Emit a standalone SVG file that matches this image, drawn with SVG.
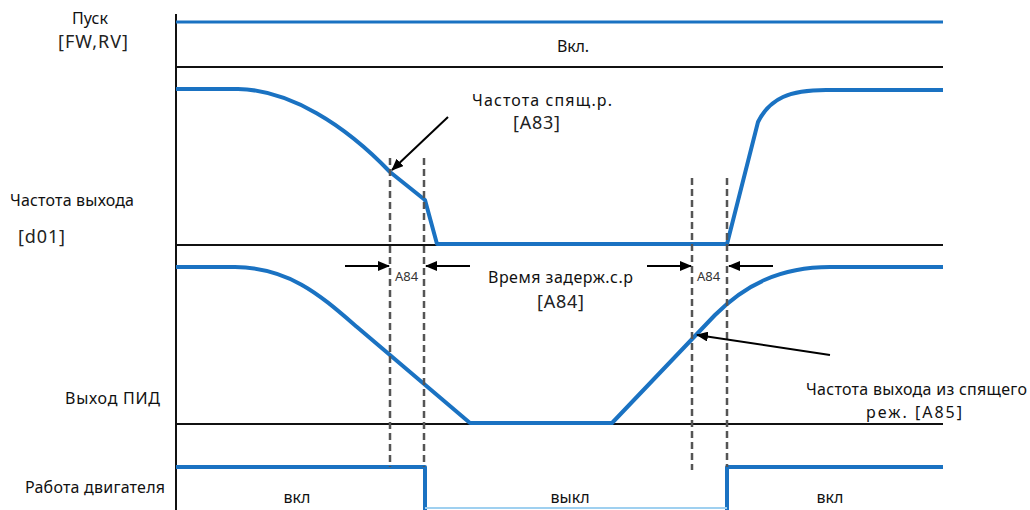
<svg xmlns="http://www.w3.org/2000/svg" width="1030" height="510" viewBox="0 0 1030 510">
<style>
text{font-family:"Noto Sans","DejaVu Sans",sans-serif;font-size:16px;fill:#111}
.sm{font-size:13px;fill:#333}
.br{font-size:18px;fill:#222}
.sig{fill:none;stroke:#1a72c2;stroke-width:4;stroke-linejoin:round}
.ax{fill:none;stroke:#111;stroke-width:2}
.dash{fill:none;stroke:#555;stroke-width:2.5;stroke-dasharray:7 4}
.arr{fill:none;stroke:#000;stroke-width:2;marker-end:url(#ah)}
</style>
<defs>
<marker id="ah" viewBox="0 0 12 10" refX="11" refY="5" markerWidth="12" markerHeight="10" markerUnits="userSpaceOnUse" orient="auto"><path d="M0,0 L12,5 L0,10 Z" fill="#000"/></marker>
</defs>
<rect width="1030" height="510" fill="#fff"/>
<g id="axes">
<line class="ax" x1="176" y1="14" x2="176" y2="510"/>
<line class="ax" x1="176" y1="67" x2="943" y2="67"/>
<line class="ax" x1="176" y1="245" x2="943" y2="245"/>
<line class="ax" x1="176" y1="424" x2="943" y2="424"/>
</g>
<g id="run-signal">
<line class="sig" x1="176" y1="22" x2="943" y2="22" style="stroke-width:3"/>
<text x="557" y="52" textLength="32" lengthAdjust="spacing">Вкл.</text>
</g>
<g id="output-frequency">
<path class="sig" d="M176,89 L238,89 C290,90 345,125 390,172 L425,200 L437,244 L727,244 L758,122 C770,98 790,90 826,90 L943,90"/>
</g>
<g id="pid-output">
<path class="sig" d="M176,267 L235,267 C290,268 320,295 357,327 L470,423 L612,423 L715,315 C745,285 780,267 830,267 L943,267"/>
</g>
<g id="motor">
<path class="sig" d="M176,467 L425,467 L425,512"/>
<path class="sig" d="M727,512 L727,467 L943,467"/>
<line x1="425" y1="508" x2="727" y2="508" stroke="#9fd0f0" stroke-width="2"/>
</g>
<g id="guides">
<line class="dash" x1="390" y1="158" x2="390" y2="467"/>
<line class="dash" x1="424" y1="158" x2="424" y2="467"/>
<line class="dash" x1="692" y1="178" x2="692" y2="470"/>
<line class="dash" x1="727" y1="178" x2="727" y2="467"/>
</g>
<g id="connectors">
<line class="arr" x1="448" y1="117" x2="392" y2="170"/>
<line class="arr" x1="830" y1="355" x2="697" y2="335"/>
<line class="arr" x1="345" y1="266" x2="389" y2="266"/>
<line class="arr" x1="470" y1="266" x2="426" y2="266"/>
<line class="arr" x1="647" y1="266" x2="691" y2="266"/>
<line class="arr" x1="773" y1="266" x2="729" y2="266"/>
</g>
<g id="labels">
<text x="90" y="24" text-anchor="middle">Пуск</text>
<text class="br" x="58" y="48" textLength="70" lengthAdjust="spacing">[FW,RV]</text>
<text x="10" y="206" textLength="124" lengthAdjust="spacing">Частота выхода</text>
<text class="br" x="18" y="243" textLength="47" lengthAdjust="spacing">[d01]</text>
<text x="65" y="404" textLength="95" lengthAdjust="spacing">Выход ПИД</text>
<text x="25" y="493" textLength="140" lengthAdjust="spacing">Работа двигателя</text>
<text x="297" y="503" text-anchor="middle">вкл</text>
<text x="570" y="503" text-anchor="middle">выкл</text>
<text x="830" y="503" text-anchor="middle">вкл</text>
<text x="472" y="106" textLength="140" lengthAdjust="spacing">Частота спящ.р.</text>
<text class="br" x="513" y="129" textLength="47" lengthAdjust="spacing">[A83]</text>
<text x="488" y="283" textLength="145" lengthAdjust="spacing">Время задерж.с.р</text>
<text class="br" x="537" y="308" textLength="47" lengthAdjust="spacing">[A84]</text>
<text class="sm" x="395" y="281">A84</text>
<text class="sm" x="697" y="281">A84</text>
<text x="806" y="395" textLength="221" lengthAdjust="spacing">Частота выхода из спящего</text>
<text x="866" y="418" textLength="96" lengthAdjust="spacing">реж. [A85]</text>
</g>
</svg>
